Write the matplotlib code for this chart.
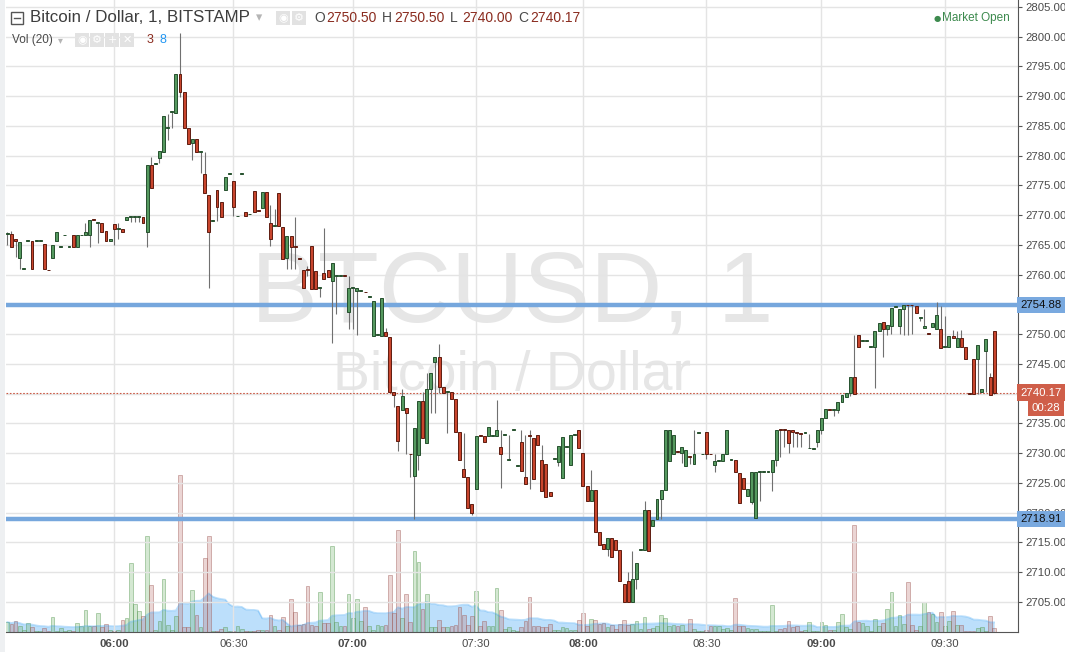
import numpy as np
import pandas as pd
import matplotlib
matplotlib.use("Agg")
import matplotlib.pyplot as plt
from matplotlib.patches import Rectangle

# 1-minute BTCUSD candles (Bitstamp), 05:34 .. 09:42
opens = [
    2766.8, 2766.8, 2765.9, 2762.8, 2760.9, 2765.6, 2765.6, 2765.6, 2765.6, 2765.1,
    2760.8, 2762.8, 2765.6, 2764.6, 2766.6, 2764.6, 2766.6, 2764.6, 2766.6, 2766.6,
    2766.6, 2769.3, 2768.7, 2768.7, 2767.3, 2765.6, 2768.5, 2767.7, 2767.6, 2769.2,
    2769.7, 2769.7, 2769.7, 2769.7, 2767.1, 2778.4, 2778.6, 2779.6, 2780.6, 2784.6,
    2787.3, 2787.1, 2793.7, 2790.7, 2784.6, 2782.1, 2782.8, 2780.6, 2776.9, 2773.4,
    2769.0, 2774.2, 2772.2, 2774.2, 2776.9, 2775.7, 2769.8, 2776.9, 2770.5, 2770.1,
    2774.0, 2770.8, 2771.2, 2773.9, 2768.7, 2768.2, 2773.7, 2768.0, 2762.8, 2766.5,
    2764.8, 2762.7, 2760.8, 2760.9, 2764.8, 2760.6, 2757.7, 2760.3, 2760.8, 2758.9,
    2759.8, 2759.8, 2759.9, 2753.7, 2757.7, 2757.3, 2757.3, 2757.1, 2756.2, 2749.7,
    2749.9, 2749.7, 2750.3, 2749.5, 2740.3, 2737.9, 2737.2, 2737.6, 2729.9, 2726.1,
    2729.7, 2738.7, 2731.7, 2740.8, 2745.3, 2746.1, 2741.1, 2740.3, 2740.3, 2739.1,
    2733.5, 2727.3, 2726.0, 2721.4, 2723.9, 2733.0, 2732.9, 2732.9, 2732.9, 2732.9,
    2731.0, 2733.0, 2728.8, 2733.9, 2727.8, 2731.9, 2726.0, 2733.0, 2732.5, 2733.0,
    2728.8, 2728.2, 2723.4, 2729.0, 2728.5, 2725.8, 2731.0, 2728.0, 2733.0, 2733.9,
    2730.0, 2724.5, 2721.9, 2723.8, 2716.7, 2714.7, 2713.9, 2715.7, 2715.4, 2713.7,
    2708.0, 2708.5, 2704.9, 2708.8, 2713.7, 2713.7, 2720.4, 2717.7, 2718.9, 2722.3,
    2723.8, 2728.7, 2729.8, 2730.3, 2730.0, 2727.8, 2729.4, 2728.1, 2733.4, 2729.8,
    2733.5, 2729.9, 2728.0, 2728.7, 2728.7, 2729.8, 2728.8, 2728.8, 2726.6, 2725.8,
    2722.8, 2721.8, 2719.1, 2726.8, 2726.8, 2726.8, 2726.8, 2728.8, 2734.0, 2734.0,
    2733.9, 2733.9, 2733.5, 2733.3, 2733.4, 2730.8, 2730.7, 2731.9, 2733.9, 2735.9,
    2737.3, 2737.2, 2737.2, 2738.6, 2739.4, 2740.1, 2742.7, 2749.8, 2748.8, 2748.8,
    2747.8, 2747.8, 2750.5, 2752.0, 2750.8, 2751.4, 2754.6, 2751.4, 2754.2, 2754.9,
    2754.9, 2754.7, 2752.7, 2751.0, 2750.1, 2751.2, 2750.8, 2750.8, 2747.8, 2747.8,
    2749.7, 2747.8, 2749.3, 2747.8, 2740.0, 2745.8, 2745.8, 2740.3, 2747.1, 2742.7,
    2750.5,
]
highs = [
    2767.1, 2767.3, 2765.9, 2765.5, 2760.9, 2765.6, 2765.6, 2765.6, 2765.6, 2765.1,
    2760.8, 2765.0, 2767.1, 2764.6, 2766.6, 2764.6, 2766.6, 2766.6, 2766.6, 2768.7,
    2769.2, 2769.3, 2768.7, 2768.7, 2767.3, 2765.9, 2768.5, 2768.7, 2767.6, 2769.7,
    2769.7, 2769.7, 2769.7, 2769.7, 2778.4, 2779.8, 2778.6, 2780.8, 2786.6, 2787.0,
    2787.3, 2793.7, 2800.6, 2790.7, 2784.6, 2782.8, 2782.8, 2780.6, 2780.6, 2773.4,
    2769.0, 2774.2, 2772.2, 2776.4, 2776.9, 2775.7, 2769.8, 2776.9, 2770.5, 2770.1,
    2774.0, 2770.8, 2773.9, 2773.9, 2771.7, 2771.0, 2773.7, 2768.0, 2766.5, 2766.5,
    2769.7, 2762.7, 2760.8, 2761.5, 2764.8, 2760.6, 2757.7, 2767.8, 2760.8, 2761.9,
    2759.8, 2759.8, 2759.9, 2759.8, 2757.7, 2757.7, 2757.3, 2757.1, 2756.2, 2755.5,
    2749.9, 2756.0, 2751.0, 2749.5, 2740.3, 2737.9, 2740.8, 2737.6, 2729.9, 2734.2,
    2738.7, 2740.3, 2743.5, 2743.5, 2746.1, 2748.3, 2741.1, 2740.3, 2740.3, 2739.1,
    2733.5, 2733.4, 2726.0, 2721.4, 2732.9, 2733.0, 2732.9, 2734.4, 2732.9, 2738.9,
    2733.9, 2733.0, 2733.0, 2733.9, 2727.8, 2733.9, 2733.0, 2733.9, 2732.5, 2733.0,
    2731.3, 2728.2, 2723.4, 2729.0, 2731.2, 2732.7, 2731.0, 2733.0, 2733.0, 2733.9,
    2730.0, 2724.5, 2727.1, 2723.8, 2716.7, 2714.7, 2715.7, 2715.7, 2715.4, 2713.7,
    2708.0, 2710.0, 2713.5, 2711.5, 2713.7, 2722.0, 2720.4, 2718.7, 2722.3, 2723.8,
    2733.9, 2733.9, 2733.0, 2730.3, 2731.0, 2730.5, 2729.4, 2733.9, 2733.4, 2729.8,
    2733.5, 2729.9, 2729.8, 2728.7, 2729.8, 2733.9, 2728.8, 2728.8, 2726.6, 2725.8,
    2724.0, 2726.8, 2726.8, 2726.8, 2726.8, 2726.8, 2728.8, 2733.9, 2734.0, 2734.0,
    2733.9, 2733.9, 2733.5, 2733.3, 2733.4, 2733.2, 2730.7, 2733.9, 2735.9, 2737.4,
    2737.3, 2737.2, 2738.6, 2739.8, 2740.1, 2742.7, 2749.8, 2749.8, 2748.8, 2748.8,
    2747.8, 2750.5, 2751.9, 2752.0, 2751.6, 2754.4, 2754.6, 2754.2, 2754.8, 2754.9,
    2754.9, 2754.7, 2752.7, 2754.2, 2750.1, 2751.9, 2755.4, 2754.7, 2753.0, 2749.7,
    2750.6, 2750.5, 2750.6, 2747.8, 2740.0, 2745.8, 2748.2, 2740.8, 2749.2, 2743.4,
    2750.5,
]
lows = [
    2765.0, 2764.6, 2763.0, 2760.9, 2760.9, 2765.6, 2760.9, 2765.6, 2765.6, 2760.9,
    2760.7, 2762.8, 2765.6, 2764.6, 2766.6, 2764.6, 2764.6, 2764.6, 2766.6, 2766.6,
    2764.6, 2769.2, 2765.3, 2767.1, 2765.6, 2765.6, 2765.0, 2766.0, 2767.1, 2769.2,
    2768.9, 2768.9, 2768.9, 2768.7, 2764.6, 2774.5, 2778.6, 2778.8, 2780.6, 2782.6,
    2784.6, 2787.1, 2789.8, 2784.6, 2781.9, 2779.2, 2780.6, 2777.1, 2773.7, 2757.7,
    2769.0, 2769.0, 2769.7, 2774.2, 2776.9, 2769.9, 2769.8, 2776.9, 2769.8, 2770.1,
    2770.5, 2770.7, 2771.2, 2769.7, 2764.8, 2768.2, 2768.2, 2762.6, 2760.9, 2760.9,
    2760.9, 2762.6, 2757.7, 2759.8, 2757.6, 2757.6, 2756.2, 2759.3, 2759.6, 2748.5,
    2753.4, 2759.8, 2759.8, 2750.8, 2750.9, 2749.8, 2757.3, 2757.0, 2756.2, 2749.7,
    2749.9, 2749.7, 2749.7, 2740.3, 2737.7, 2730.3, 2737.2, 2729.8, 2726.0, 2718.9,
    2727.2, 2732.5, 2731.7, 2736.7, 2736.7, 2740.1, 2740.1, 2733.4, 2739.1, 2733.5,
    2728.8, 2726.0, 2720.8, 2719.6, 2723.9, 2732.9, 2731.9, 2732.9, 2732.9, 2732.9,
    2724.1, 2733.0, 2728.8, 2733.9, 2727.8, 2727.0, 2724.8, 2723.9, 2725.6, 2731.3,
    2723.6, 2722.6, 2722.8, 2729.0, 2727.8, 2725.8, 2731.0, 2728.0, 2733.0, 2730.9,
    2724.5, 2721.9, 2721.9, 2716.7, 2714.5, 2713.9, 2712.7, 2712.5, 2713.7, 2708.5,
    2704.9, 2704.9, 2704.9, 2707.2, 2713.7, 2713.7, 2713.5, 2717.7, 2718.9, 2718.9,
    2723.8, 2728.7, 2729.8, 2730.2, 2728.3, 2727.8, 2728.2, 2728.1, 2733.4, 2729.8,
    2729.0, 2729.8, 2726.8, 2728.7, 2728.7, 2729.8, 2728.8, 2726.8, 2721.6, 2724.0,
    2722.8, 2721.5, 2719.1, 2721.9, 2726.8, 2726.8, 2723.6, 2727.8, 2729.3, 2731.0,
    2730.0, 2731.0, 2731.0, 2731.0, 2733.4, 2730.8, 2730.7, 2731.0, 2733.2, 2735.9,
    2737.2, 2736.2, 2736.8, 2738.6, 2739.4, 2739.6, 2739.9, 2747.8, 2748.8, 2748.8,
    2747.8, 2740.9, 2750.5, 2746.1, 2749.8, 2750.0, 2754.6, 2750.0, 2749.8, 2749.9,
    2750.0, 2753.5, 2752.2, 2751.0, 2750.0, 2751.2, 2750.8, 2747.7, 2747.8, 2747.8,
    2749.3, 2747.8, 2747.8, 2745.8, 2739.9, 2739.9, 2739.9, 2740.3, 2740.3, 2739.8,
    2740.0,
]
closes = [
    2766.8, 2764.6, 2765.6, 2765.5, 2760.9, 2765.6, 2760.9, 2765.6, 2765.6, 2760.9,
    2760.7, 2765.0, 2767.1, 2764.6, 2766.6, 2764.6, 2764.6, 2766.6, 2766.6, 2767.1,
    2769.2, 2769.2, 2768.7, 2767.1, 2765.6, 2765.9, 2767.7, 2767.7, 2767.1, 2769.7,
    2769.7, 2769.7, 2769.7, 2768.7, 2778.4, 2774.5, 2778.6, 2780.8, 2786.6, 2784.6,
    2787.3, 2793.7, 2790.7, 2784.6, 2781.9, 2782.8, 2780.6, 2780.6, 2773.7, 2767.1,
    2769.0, 2771.3, 2769.7, 2776.4, 2776.9, 2771.3, 2769.8, 2776.9, 2769.8, 2770.1,
    2770.5, 2770.7, 2773.9, 2769.7, 2766.0, 2768.2, 2768.2, 2762.6, 2766.5, 2764.6,
    2764.7, 2762.6, 2757.7, 2760.8, 2757.6, 2757.6, 2757.7, 2759.3, 2759.6, 2761.9,
    2759.8, 2759.8, 2759.8, 2757.7, 2757.7, 2757.7, 2757.3, 2757.0, 2756.2, 2755.5,
    2749.9, 2756.0, 2749.7, 2740.3, 2739.8, 2732.0, 2739.6, 2736.7, 2729.8, 2734.2,
    2738.7, 2732.5, 2740.8, 2743.5, 2746.1, 2741.1, 2740.1, 2740.3, 2739.1, 2733.5,
    2728.8, 2726.0, 2720.8, 2719.9, 2732.9, 2732.9, 2731.9, 2734.4, 2732.9, 2733.9,
    2729.8, 2733.0, 2728.8, 2733.9, 2727.8, 2727.0, 2724.8, 2732.9, 2725.6, 2731.3,
    2723.6, 2722.6, 2722.8, 2729.0, 2731.2, 2732.7, 2731.0, 2733.0, 2733.0, 2730.9,
    2724.5, 2721.9, 2723.8, 2716.7, 2714.5, 2713.9, 2715.7, 2712.5, 2713.7, 2708.5,
    2704.9, 2704.9, 2708.8, 2711.5, 2713.7, 2720.4, 2713.5, 2718.7, 2722.3, 2723.8,
    2733.9, 2733.9, 2733.0, 2730.2, 2731.0, 2730.5, 2729.3, 2729.8, 2733.4, 2729.8,
    2729.8, 2729.8, 2728.7, 2728.7, 2729.8, 2733.9, 2728.8, 2726.8, 2721.6, 2724.0,
    2724.0, 2726.8, 2726.8, 2726.8, 2726.8, 2726.8, 2728.8, 2733.9, 2733.9, 2733.9,
    2731.7, 2733.5, 2733.4, 2733.2, 2733.4, 2730.8, 2730.7, 2733.9, 2735.9, 2737.4,
    2737.2, 2737.2, 2738.6, 2739.8, 2740.1, 2742.7, 2739.9, 2747.8, 2748.8, 2748.8,
    2747.8, 2750.5, 2751.9, 2750.8, 2751.6, 2754.4, 2754.6, 2754.2, 2754.8, 2754.8,
    2754.8, 2753.5, 2752.7, 2751.3, 2750.0, 2751.9, 2753.2, 2747.7, 2747.8, 2749.7,
    2749.3, 2749.3, 2747.8, 2745.8, 2739.9, 2739.9, 2748.2, 2740.8, 2749.2, 2739.8,
    2740.17,
]
volumes = [
    7.1, 5.9, 8.1, 4.5, 1.6, 6.4, 3.6, 0.5, 0.9, 2.9,
    0.5, 10.9, 0.9, 2.9, 0.5, 1.6, 0.9, 6.4, 4.1, 15.7,
    4.5, 4.1, 13.6, 3.4, 5.7, 1.6, 0.9, 1.6, 8.6, 10.2,
    49.3, 20.0, 14.8, 11.6, 68.6, 33.6, 1.6, 8.1, 38.1, 5.2,
    1.6, 11.6, 112.1, 3.6, 3.6, 30.2, 12.1, 3.6, 53.1, 68.6,
    0.9, 0.9, 2.1, 3.6, 0.5, 0.5, 4.5, 2.1, 0.9, 0.5,
    0.9, 1.6, 1.6, 1.6, 12.1, 4.1, 1.6, 10.9, 4.1, 23.6,
    14.3, 5.0, 5.9, 32.9, 5.2, 4.1, 28.6, 6.4, 6.4, 61.4,
    7.4, 4.1, 4.1, 27.4, 10.0, 23.8, 7.6, 18.1, 4.1, 1.6,
    5.2, 4.1, 5.2, 40.9, 13.6, 72.9, 10.0, 27.1, 7.1, 58.1,
    50.2, 16.6, 27.1, 3.6, 3.6, 8.8, 3.6, 3.6, 4.1, 5.2,
    18.1, 11.9, 5.2, 11.2, 29.5, 4.1, 8.1, 4.1, 4.1, 31.4,
    15.9, 2.1, 3.6, 1.2, 0.9, 3.6, 7.6, 25.0, 4.1, 4.1,
    3.6, 3.6, 5.9, 1.6, 1.6, 3.6, 2.9, 1.6, 1.6, 8.4,
    13.6, 4.5, 9.5, 8.8, 5.9, 6.4, 3.6, 5.2, 2.1, 5.9,
    8.6, 5.2, 5.7, 8.1, 2.1, 10.9, 2.1, 2.9, 4.1, 12.1,
    10.0, 4.1, 5.0, 4.5, 5.2, 0.9, 9.5, 2.1, 0.9, 0.9,
    1.6, 4.1, 4.5, 4.5, 2.1, 2.6, 1.6, 24.5, 4.1, 4.5,
    2.6, 2.1, 2.1, 0.9, 0.9, 0.9, 19.5, 0.9, 2.1, 2.6,
    8.1, 3.6, 4.1, 0.9, 1.6, 7.1, 0.9, 0.9, 7.1, 5.2,
    1.6, 1.6, 7.1, 12.9, 3.6, 2.1, 76.6, 6.9, 6.4, 4.1,
    0.9, 9.3, 4.1, 6.4, 16.4, 28.6, 4.5, 12.1, 5.7, 35.7,
    4.8, 1.6, 4.1, 21.4, 14.1, 12.9, 7.1, 14.3, 4.1, 8.1,
    15.0, 4.8, 5.2, 0.9, 0.9, 0.9, 2.9, 3.6, 0.9, 11.6,
    2.9,
]

# bar index of each half-hour label
time_tick_bars = [26, 55, 84, 114, 140, 170, 198, 228]
time_tick_labels = ["06:00", "06:30", "07:00", "07:30", "08:00", "08:30", "09:00", "09:30"]
price_ticks = list(range(2705, 2806, 5))

resistance = 2754.88
support = 2718.91
last_price = 2740.17
vol_legend = ("3", "8")   # last volume, MA(20) as shown in the legend

W, H = 1065, 652
FONT = "Liberation Sans"

def fx(x):
    return x / W

def fy(y):
    return 1 - y / H

o = np.array(opens)
h = np.array(highs)
l = np.array(lows)
c = np.array(closes)
v = np.array(volumes)
idx = np.arange(len(o))
up = c >= o

fig = plt.figure(figsize=(W / 100, H / 100), dpi=100)
fig.patch.set_facecolor("white")

# left toolbar edge
fig.patches.append(Rectangle((0, 0), fx(5), 1, transform=fig.transFigure,
                             facecolor="#eef0f2", edgecolor="none"))

ax = fig.add_axes([fx(6), 20 / H, fx(1018) - fx(6), 632 / H])
axv = ax.twinx()
ax.set_zorder(2)
axv.set_zorder(1)
ax.patch.set_visible(False)

ax.set_xlim(-0.32, 245.8)
ax.set_ylim(2699.92, 2806.14)

# grid
ax.set_yticks(price_ticks)
ax.set_xticks(time_tick_bars)
ax.grid(True, color="#e4e4e4", lw=1.0)
ax.set_axisbelow(True)

# watermark
ax.text(0.5, (632 - 322) / 632, "BTCUSD, 1", transform=ax.transAxes,
        ha="center", va="baseline", fontsize=72, color="#e6e6e6", family=FONT, zorder=0)
ax.text(0.5, (632 - 390) / 632, "Bitcoin / Dollar", transform=ax.transAxes,
        ha="center", va="baseline", fontsize=40, color="#e6e6e6", family=FONT, zorder=0)

# support / resistance lines
for lvl in (resistance, support):
    ax.axhline(lvl, color="#76a7dd", lw=3.2, zorder=2.5)

# last price dotted line
ax.axhline(last_price, color="#cc5a45", lw=0.8, ls=(0, (1.5, 1.5)), zorder=2.6)

# candles
ax.vlines(idx, l, h, color="#707070", lw=0.8, zorder=3)
body_bot = np.minimum(o, c)
body_h = np.maximum(np.abs(c - o), 0.12)
ax.bar(idx[up], body_h[up], bottom=body_bot[up], width=0.72,
       color="#55995f", edgecolor="#26502e", lw=0.7, zorder=4)
ax.bar(idx[~up], body_h[~up], bottom=body_bot[~up], width=0.72,
       color="#c8452d", edgecolor="#5e1c10", lw=0.7, zorder=4)

# volume + MA(20)
ma = pd.Series(v).rolling(20, min_periods=1).mean()
axv.set_ylim(0, 451)
axv.fill_between(idx, 0, ma, color="#2196f3", alpha=0.3, lw=0)
axv.plot(idx, ma, color="#2196f3", alpha=0.3, lw=1.2)
axv.bar(idx[up], v[up], width=0.9, color=(0.45, 0.70, 0.42, 0.3),
        edgecolor=(0.35, 0.60, 0.33, 0.5), lw=0.6)
axv.bar(idx[~up], v[~up], width=0.9, color=(0.75, 0.46, 0.45, 0.3),
        edgecolor=(0.62, 0.36, 0.34, 0.5), lw=0.6)
axv.set_yticks([])
for s in axv.spines.values():
    s.set_visible(False)

# axes styling
for side in ("top", "left"):
    ax.spines[side].set_visible(False)
ax.spines["right"].set_color("#555555")
ax.spines["bottom"].set_color("#555555")
ax.yaxis.tick_right()
ax.tick_params(axis="y", length=3, pad=2, color="#555555", labelsize=8.2, labelcolor="#4a4a4a")
ax.tick_params(axis="x", length=0, pad=5, labelsize=8.2, labelcolor="#4a4a4a")
# labels that sit fully under the price tags are hidden, as on the chart
hidden = {2755, 2740}
ax.set_yticklabels(["" if t in hidden else f"{t:.2f}" for t in price_ticks], family=FONT)
ax.set_xticklabels(time_tick_labels, family=FONT)
for lab in ax.get_xticklabels():
    if lab.get_text().endswith(":00"):
        lab.set_fontweight("bold")

# price tags on the right scale
def price_tag(price, text, bg, fg, dx=2, dy=0):
    ax.annotate(text, xy=(1.0, price), xycoords=("axes fraction", "data"),
                xytext=(dx, dy), textcoords="offset points", ha="left", va="center",
                fontsize=8.2, color=fg, family=FONT, annotation_clip=False, zorder=10,
                bbox=dict(boxstyle="square,pad=0.3", fc=bg, ec="none"))

price_tag(resistance, f"{resistance:.2f}", "#79a9df", "#111111")
price_tag(support, f"{support:.2f}", "#79a9df", "#111111")
price_tag(last_price, f"{last_price:.2f}", "#cf5e49", "white")
price_tag(last_price, "00:28", "#cf5e49", "white", dx=10, dy=-11)

# header legend
fig.patches.append(Rectangle((fx(11), fy(24)), 12 / W, 12 / H, transform=fig.transFigure,
                             facecolor="white", edgecolor="#555555", lw=1))
fig.lines.append(plt.Line2D([fx(14), fx(20)], [fy(18), fy(18)], transform=fig.transFigure,
                            color="#555555", lw=1))
fig.text(fx(30), fy(18), "Bitcoin / Dollar, 1, BITSTAMP", fontsize=12.2, color="#3d3d3d",
         family=FONT, va="center")
fig.text(fx(256), fy(18), "\u25be", fontsize=9, color="#b5b5b5", va="center")
for x0, glyph in ((276, "\u25c9"), (292, "\u2699")):
    fig.patches.append(Rectangle((fx(x0), fy(25)), 14 / W, 14 / H, transform=fig.transFigure,
                                 facecolor="#e2e2e2", edgecolor="none"))
    fig.text(fx(x0 + 7), fy(18), glyph, fontsize=8, color="white", ha="center", va="center")

ohlc = [("O", opens[-1]), ("H", highs[-1]), ("L", lows[-1]), ("C", closes[-1])]
xpos = 314
for key, val in ohlc:
    fig.text(fx(xpos), fy(18), key, fontsize=10, color="#4a4a4a", family=FONT, va="center")
    fig.text(fx(xpos + 12), fy(18), f"{val:.2f}", fontsize=10, color="#8a2b1e",
             family=FONT, va="center")
    xpos += 68

fig.text(fx(12), fy(40), "Vol (20)", fontsize=8.5, color="#4a4a4a", family=FONT, va="center")
fig.text(fx(58), fy(40), "\u25be", fontsize=7, color="#b5b5b5", va="center")
for x0, glyph in ((75, "\u25c9"), (90, "\u2699"), (105, "+"), (120, "\u2715")):
    fig.patches.append(Rectangle((fx(x0), fy(47)), 14 / W, 14 / H, transform=fig.transFigure,
                                 facecolor="#e2e2e2", edgecolor="none"))
    fig.text(fx(x0 + 7), fy(40), glyph, fontsize=8, color="white", ha="center", va="center")
fig.text(fx(147), fy(40), vol_legend[0], fontsize=9, color="#8a2b1e", family=FONT, va="center")
fig.text(fx(159), fy(40), vol_legend[1], fontsize=9, color="#2196f3", family=FONT, va="center")

fig.text(fx(934), fy(18), "\u25cf", fontsize=6, color="#3d8a4e", va="center")
fig.text(fx(942), fy(18), "Market Open", fontsize=8.5, color="#3d8a4e", family=FONT,
         va="center")

fig.savefig("out.png", dpi=100, facecolor="white")
